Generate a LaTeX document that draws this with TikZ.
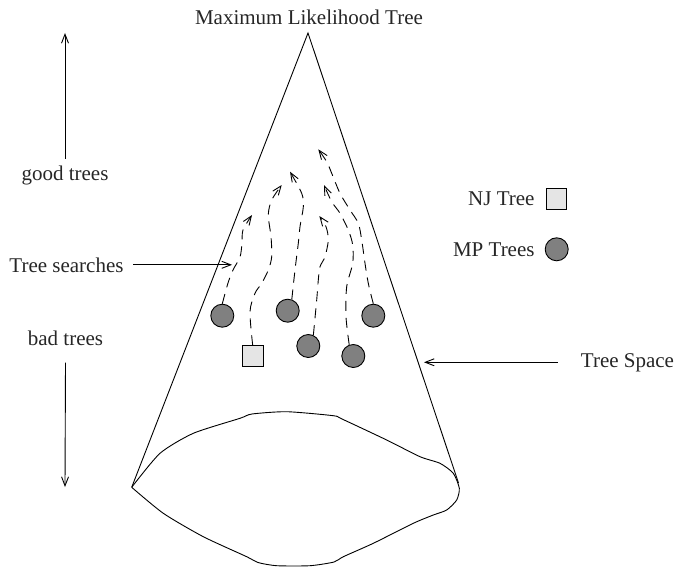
\documentclass[tikz,border=0pt]{standalone}
\usepackage{fontspec}
\setmainfont{Liberation Serif}
\usetikzlibrary{arrows.meta}
\begin{document}
\begin{tikzpicture}[x=1pt,y=-1pt,
  line width=0.9pt,
  every node/.style={inner sep=0pt,font=\fontsize{21}{25}\selectfont,text=black!85},
  lbl/.style={anchor=base},
  arr/.style={-{Straight Barb[length=9pt,width=7pt,line width=0.9pt]}},
  search/.style={arr,dash pattern=on 10pt off 7pt},
  mp/.style={circle,draw,fill=black!50,minimum size=23pt,line width=0.9pt},
  nj/.style={rectangle,draw,fill=black!10,minimum size=20.5pt,line width=0.9pt}]
\useasboundingbox (0,0) rectangle (676,567);

% labels
\node[lbl] (title) at (309,25) {Maximum Likelihood Tree};
\node[lbl] (good) at (65,180) {good trees};
\node[lbl] (ts) at (66.5,272) {Tree searches};
\node[lbl] (bad) at (65.5,345) {bad trees};
\node[lbl] (space) at (627.5,367) {Tree Space};
\node[anchor=base east] (njl) at (535,205) {NJ Tree};
\node[anchor=base east] (mpl) at (535,256) {MP Trees};
\node[nj] (njk) at (556.5,199) {};
\node[mp] (mpk) at (556.7,249.3) {};

% the cone of tree space
\coordinate (apex) at (308,33);
\coordinate (bl) at (131.7,487.3);
\coordinate (br) at (458.5,483);
\draw (bl) -- (apex) -- (br);
\draw plot[smooth,tension=0.4] coordinates {
  (bl) (160,453.3) (193.3,433.3) (240,418.3) (252,414) (286.7,411.7)
  (333.3,415.7) (342,419) (386.7,440) (420,456.7) (440,463.3)
  (453.3,473.3) (459.3,488.3) (456.7,500) (446.7,510) (433.3,515)
  (413.3,523.3) (373.3,543.3) (343.3,556.7) (334,562) (310,565.7)
  (276.7,565.7) (258,562.5) (246.7,556.7) (203.3,536.7) (163.3,513.3)
  (bl)};

% side arrows
\coordinate (goodtip) at (65,33);
\coordinate (badtip) at (65,487);
\coordinate (tstip) at (232,265);
\coordinate (spacetip) at (424,362);
\draw[arr] ([yshift=6pt]good.north) -- (goodtip);
\draw[arr] ([yshift=-17pt]bad.south) -- (badtip);
\draw[arr] ([xshift=9pt]ts.east) -- (ts.east -| tstip);
\draw[arr] ([xshift=-23pt]space.west) -- (space.west -| spacetip);

% starting trees
\node[mp] (c1) at (222.3,315.7) {};
\node[mp] (c2) at (287.7,310.7) {};
\node[mp] (c3) at (308.3,346) {};
\node[mp] (c4) at (353.3,356) {};
\node[mp] (c5) at (373.3,315.7) {};
\node[nj] (sq) at (252.7,356) {};

% searches climbing towards the top
\draw[search] plot[smooth] coordinates {(c1.north) (228,283) (233,270)
  (240,257) (242,243) (243,230) (252,215)};
\draw[search] plot[smooth] coordinates {(sq.north) (250,311.7) (255,293.3)
  (261.7,283.3) (268.3,270) (271.7,256.7) (271,236.7) (268.3,215)
  (271.7,200) (281.7,185)};
\draw[search] plot[smooth] coordinates {(c2.70) (295,270) (298.3,243.3)
  (300,226.7) (303.3,206.7) (301.7,193.3) (290,171.7)};
\draw[search] plot[smooth] coordinates {(c3.65) (316.7,300) (318.3,280)
  (320,266.7) (325,256.7) (328.3,240) (326,226.7) (319.3,216)};
\draw[search] plot[smooth] coordinates {(c4.110) (346,316.7) (346.7,286.7)
  (352.7,263.3) (352.7,245) (348.3,230) (340,213.3) (331.7,201.7) (324,185)};
\draw[search] plot[smooth] coordinates {(c5.north) (368.3,283.3) (365,263.3)
  (361.7,240) (358.3,223.3) (350,210) (340,193.3) (331.7,173.3)
  (326.7,161.7) (318.3,149.3)};
\end{tikzpicture}
\end{document}
